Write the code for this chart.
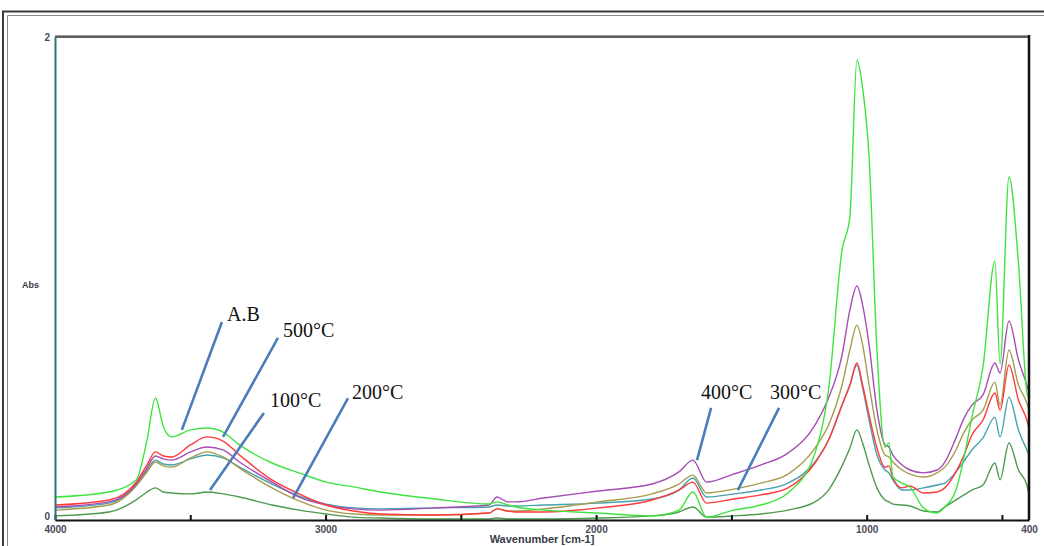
<!DOCTYPE html>
<html>
<head>
<meta charset="utf-8">
<script src="https://cdn.jsdelivr.net/npm/d3@7"></script>
<style>
	body { margin: 0; background: #fff; }
	svg { display: block; }
	.tick text { font-family: Arial, 'Liberation Sans', sans-serif; font-weight: bold; font-size: 10px; fill: #4a4a55; }
	.note { font-family: 'Liberation Serif', 'Times New Roman', serif; font-size: 20px; fill: #111; }
</style>
</head>
<body>
<div id="chart"></div>
<script>
// wavenumbers (cm-1) shared by every spectrum
const wavenumbers = [4000, 3800, 3700, 3660, 3629, 3599, 3569, 3499, 3438, 3379, 3318, 3198, 3098, 2998, 2897, 2796, 2596, 2396, 2366, 2326, 2296, 2194, 1993, 1793, 1694, 1642, 1592, 1492, 1391, 1291, 1191, 1141, 1091, 1062, 1036, 1015, 991, 962, 932, 918, 903, 869, 840, 790, 740, 711, 670, 640, 611, 570, 526, 507, 474, 439, 408, 400];

const absAB = [0.095, 0.116, 0.166, 0.331, 0.505, 0.385, 0.344, 0.373, 0.381, 0.364, 0.311, 0.236, 0.195, 0.157, 0.137, 0.116, 0.087, 0.066, 0.075, 0.062, 0.054, 0.041, 0.029, 0.017, 0.041, 0.116, 0.012, 0.041, 0.062, 0.112, 0.277, 0.538, 1.118, 1.255, 1.905, 1.789, 1.503, 0.704, 0.302, 0.319, 0.178, 0.153, 0.137, 0.050, 0.029, 0.054, 0.124, 0.261, 0.426, 0.634, 1.072, 0.646, 1.420, 1.064, 0.530, 0.497];
const abs500 = [0.062, 0.083, 0.157, 0.228, 0.282, 0.265, 0.261, 0.311, 0.344, 0.327, 0.269, 0.166, 0.108, 0.062, 0.037, 0.025, 0.021, 0.029, 0.046, 0.037, 0.033, 0.033, 0.050, 0.083, 0.124, 0.157, 0.070, 0.087, 0.104, 0.133, 0.236, 0.331, 0.476, 0.559, 0.650, 0.559, 0.435, 0.298, 0.219, 0.224, 0.174, 0.133, 0.141, 0.112, 0.116, 0.133, 0.199, 0.269, 0.352, 0.414, 0.526, 0.455, 0.642, 0.497, 0.414, 0.381];
const abs400 = [0.054, 0.075, 0.149, 0.215, 0.265, 0.253, 0.248, 0.282, 0.302, 0.290, 0.240, 0.157, 0.095, 0.062, 0.046, 0.041, 0.050, 0.062, 0.095, 0.075, 0.075, 0.091, 0.120, 0.149, 0.199, 0.248, 0.157, 0.190, 0.228, 0.277, 0.393, 0.505, 0.683, 0.870, 0.969, 0.890, 0.725, 0.455, 0.311, 0.302, 0.269, 0.228, 0.207, 0.195, 0.207, 0.240, 0.340, 0.422, 0.476, 0.518, 0.650, 0.609, 0.824, 0.663, 0.559, 0.530];
const abs300 = [0.041, 0.062, 0.141, 0.199, 0.240, 0.224, 0.219, 0.257, 0.282, 0.261, 0.215, 0.133, 0.079, 0.041, 0.025, 0.021, 0.021, 0.029, 0.046, 0.037, 0.037, 0.046, 0.075, 0.108, 0.149, 0.186, 0.112, 0.128, 0.153, 0.190, 0.298, 0.393, 0.559, 0.704, 0.807, 0.725, 0.559, 0.373, 0.269, 0.261, 0.240, 0.207, 0.190, 0.178, 0.195, 0.219, 0.290, 0.364, 0.414, 0.455, 0.571, 0.476, 0.704, 0.559, 0.484, 0.455];
const abs200 = [0.050, 0.070, 0.145, 0.207, 0.248, 0.232, 0.228, 0.253, 0.269, 0.257, 0.219, 0.149, 0.099, 0.066, 0.050, 0.046, 0.050, 0.054, 0.062, 0.058, 0.058, 0.062, 0.070, 0.087, 0.124, 0.174, 0.095, 0.108, 0.124, 0.153, 0.240, 0.331, 0.476, 0.559, 0.642, 0.547, 0.414, 0.269, 0.207, 0.195, 0.166, 0.124, 0.124, 0.133, 0.145, 0.153, 0.199, 0.244, 0.290, 0.340, 0.426, 0.344, 0.509, 0.373, 0.290, 0.269];
const abs100 = [0.017, 0.033, 0.083, 0.116, 0.133, 0.116, 0.112, 0.108, 0.116, 0.108, 0.095, 0.062, 0.041, 0.025, 0.012, 0.008, 0.004, 0.004, 0.008, 0.004, 0.004, 0.004, 0.008, 0.017, 0.033, 0.054, 0.012, 0.017, 0.025, 0.041, 0.075, 0.124, 0.224, 0.298, 0.373, 0.319, 0.228, 0.133, 0.083, 0.075, 0.066, 0.062, 0.058, 0.037, 0.033, 0.054, 0.083, 0.104, 0.124, 0.145, 0.236, 0.166, 0.319, 0.207, 0.145, 0.104];

const seriesNames = ['A.B', '500°C', '400°C', '300°C', '200°C', '100°C'];
const seriesColors = ['#3fe43f', '#ff3a3a', '#a54db5', '#a59c4c', '#47a2ac', '#4f9a4f'];

const xTickValues = [4000, 3500, 3000, 2500, 2000, 1500, 1000, 500, 400];
const xTickLabels = [4000, 3000, 2000, 1000, 400];
const yTickValues = [0, 2];

// leader lines: label, text anchor [wn, abs], line from [wn, abs] to [wn, abs]
const noteLabels = ['A.B', '500°C', '100°C', '200°C', '400°C', '300°C'];
const noteText = [[3364, 0.824], [3157, 0.758], [3205, 0.468], [2902, 0.501], [1612, 0.501], [1357, 0.501]];
const noteFrom = [[3383, 0.820], [3176, 0.754], [3228, 0.443], [2917, 0.505], [1575, 0.464], [1324, 0.464]];
const noteTo = [[3531, 0.373], [3379, 0.344], [3427, 0.124], [3120, 0.091], [1627, 0.248], [1476, 0.124]];

function draw() {
	const width = 1044;
	const height = 546;
	const margin = { left: 55, right: 15, top: 37, bottom: 26 };

	const svg = d3
		.select('#chart')
		.append('svg')
		.attr('width', width)
		.attr('height', height);

	// outer frame (double line)
	svg.append('rect')
		.attr('x', 3)
		.attr('y', 11.5)
		.attr('width', width)
		.attr('height', height)
		.attr('fill', 'none')
		.attr('stroke', '#3a3a3a')
		.attr('stroke-width', 2);
	svg.append('path')
		.attr('d', `M7.5,${height} V15.5 H${width}`)
		.attr('fill', 'none')
		.attr('stroke', '#8a8a8a')
		.attr('stroke-width', 1);

	const x = d3
		.scaleLinear()
		.domain([4000, 400])
		.range([margin.left, width - margin.right]);
	const y = d3
		.scaleLinear()
		.domain([0, 2])
		.range([height - margin.bottom, margin.top]);

	const allSeries = [absAB, abs500, abs400, abs300, abs200, abs100].map((vals, i) => ({
		name: seriesNames[i],
		color: seriesColors[i],
		points: wavenumbers.map((w, j) => [w, vals[j]]),
	}));

	const line = d3
		.line()
		.x((d) => x(d[0]))
		.y((d) => y(d[1]))
		.curve(d3.curveMonotoneX);

	svg.append('defs')
		.append('clipPath')
		.attr('id', 'plot-clip')
		.append('rect')
		.attr('x', x(4000))
		.attr('y', y(2))
		.attr('width', x(400) - x(4000))
		.attr('height', y(0) - y(2));

	// draw the strongest spectrum last so it sits on top like the original
	svg.append('g')
		.attr('clip-path', 'url(#plot-clip)')
		.selectAll('.spectrum')
		.data(allSeries.slice().reverse())
		.enter()
		.append('path')
		.attr('class', 'spectrum')
		.attr('fill', 'none')
		.attr('stroke', (d) => d.color)
		.attr('stroke-width', 1.4)
		.attr('stroke-linejoin', 'round')
		.attr('d', (d) => line(d.points));

	// plot frame
	svg.append('line')
		.attr('x1', x(4000))
		.attr('x2', x(400) + 1)
		.attr('y1', y(2) - 1.5)
		.attr('y2', y(2) - 1.5)
		.attr('stroke', '#9a9a9a')
		.attr('stroke-width', 1);
	svg.append('line')
		.attr('x1', x(4000))
		.attr('x2', x(400))
		.attr('y1', y(2))
		.attr('y2', y(2))
		.attr('stroke', '#2a2a2a')
		.attr('stroke-width', 1.5);
	svg.append('line')
		.attr('x1', x(400))
		.attr('x2', x(400))
		.attr('y1', y(2) - 2)
		.attr('y2', y(0))
		.attr('stroke', '#111')
		.attr('stroke-width', 2.5);

	const xAxis = d3
		.axisBottom(x)
		.tickValues(xTickValues)
		.tickSizeInner(-5)
		.tickSizeOuter(0)
		.tickPadding(6)
		.tickFormat((d) => (xTickLabels.includes(d) ? d : ''));

	const gx = svg
		.append('g')
		.attr('transform', `translate(0,${y(0)})`)
		.call(xAxis);
	gx.select('.domain').attr('stroke', '#111').attr('stroke-width', 2);
	gx.selectAll('.tick line').attr('stroke', '#111').attr('stroke-width', 2);
	gx.selectAll('.tick')
		.filter((d) => d === 400)
		.select('line')
		.remove();

	const yAxis = d3
		.axisLeft(y)
		.tickValues(yTickValues)
		.tickFormat(d3.format('d'))
		.tickSize(0)
		.tickPadding(5);

	const gy = svg
		.append('g')
		.attr('transform', `translate(${x(4000)},0)`)
		.call(yAxis);
	gy.select('.domain').attr('stroke', '#2b7272').attr('stroke-width', 2);
	gy.selectAll('.tick text').attr('font-size', 9);
	// the zero label sits just above the 4000 label
	gy.selectAll('.tick')
		.filter((d) => d === 0)
		.select('text')
		.attr('dy', '-0.1em');

	svg.append('text')
		.attr('x', 22)
		.attr('y', y(1) + 9)
		.attr('font-family', 'Arial, sans-serif')
		.attr('font-weight', 'bold')
		.attr('font-size', 9)
		.attr('fill', '#3a3a45')
		.text('Abs');

	svg.append('text')
		.attr('x', 542)
		.attr('y', height - 3)
		.attr('text-anchor', 'middle')
		.attr('font-family', 'Arial, sans-serif')
		.attr('font-weight', 'bold')
		.attr('font-size', 11)
		.attr('fill', '#3a3a45')
		.text('Wavenumber [cm-1]');

	// annotations
	const notes = svg.append('g');
	notes.selectAll('line')
		.data(noteLabels)
		.enter()
		.append('line')
		.attr('x1', (d, i) => x(noteFrom[i][0]))
		.attr('y1', (d, i) => y(noteFrom[i][1]))
		.attr('x2', (d, i) => x(noteTo[i][0]))
		.attr('y2', (d, i) => y(noteTo[i][1]))
		.attr('stroke', '#4a7dba')
		.attr('stroke-width', 2.6);
	notes.selectAll('text')
		.data(noteLabels)
		.enter()
		.append('text')
		.attr('class', 'note')
		.attr('x', (d, i) => x(noteText[i][0]))
		.attr('y', (d, i) => y(noteText[i][1]))
		.text((d) => d);
}
draw();
</script>
</body>
</html>
